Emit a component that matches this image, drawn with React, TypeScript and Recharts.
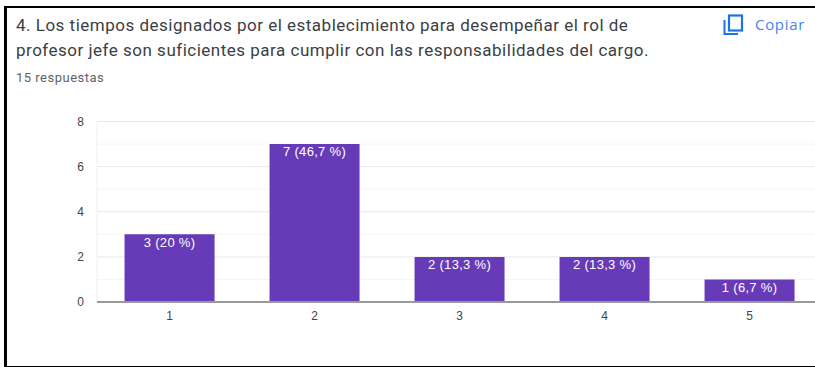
import React from "react";
import {
  BarChart,
  Bar,
  XAxis,
  YAxis,
  CartesianGrid,
  LabelList,
} from "recharts";

const categories = ["1", "2", "3", "4", "5"];
const counts = [3, 7, 2, 2, 1];
const barLabels = ["3 (20 %)", "7 (46,7 %)", "2 (13,3 %)", "2 (13,3 %)", "1 (6,7 %)"];
const yTicks = [0, 2, 4, 6, 8];
const minorLines = [1, 3, 5, 7];

const rows = categories.map((name, i) => ({
  name,
  value: counts[i],
  label: barLabels[i],
}));

const CopyIcon = () => (
  <svg
    width="21"
    height="22"
    viewBox="0 0 21 22"
    style={{ position: "absolute", left: 723, top: 14 }}
  >
    <path d="M1.5 6 V20 H15" fill="none" stroke="#1a73e8" strokeWidth="2" />
    <rect x="6" y="1.5" width="13" height="15" fill="none" stroke="#1a73e8" strokeWidth="2.2" />
  </svg>
);

const tickStyle = {
  fontSize: 12,
  fontFamily: "'Liberation Sans', Arial, sans-serif",
  fill: "#444",
};

export default function App() {
  return (
    <div
      style={{
        position: "absolute",
        left: 0,
        top: 0,
        width: 815,
        height: 367,
        overflow: "hidden",
        background: "#fff",
        fontFamily: "Roboto, sans-serif",
      }}
    >
      {/* frame: top, left and bottom edges only */}
      <div style={{ position: "absolute", left: 4, top: 6, width: 811, height: 2, background: "#000" }} />
      <div style={{ position: "absolute", left: 4, top: 6, width: 3, height: 361, background: "#000" }} />
      <div style={{ position: "absolute", left: 4, top: 366, width: 811, height: 1, background: "#000" }} />

      <div
        style={{
          position: "absolute",
          left: 16,
          top: 13,
          fontSize: 17,
          lineHeight: "25px",
          letterSpacing: 0.5,
          color: "#3c4043",
          whiteSpace: "nowrap",
        }}
      >
        4. Los tiempos designados por el establecimiento para desempeñar el rol de
        <br />
        profesor jefe son suficientes para cumplir con las responsabilidades del cargo.
      </div>
      <div
        style={{
          position: "absolute",
          left: 16,
          top: 71,
          fontSize: 13,
          lineHeight: "14px",
          letterSpacing: 0.5,
          color: "#5f6368",
        }}
      >
        15 respuestas
      </div>
      <CopyIcon />
      <div
        style={{
          position: "absolute",
          left: 755,
          top: 15,
          fontSize: 15,
          lineHeight: "18px",
          fontWeight: 500,
          fontFamily: "'Open Sans', sans-serif",
          letterSpacing: 0.7,
          color: "#4285f4",
        }}
      >
        Copiar
      </div>

      <div style={{ position: "absolute", left: 0, top: 0 }}>
        <BarChart
          width={822}
          height={340.5}
          data={rows}
          margin={{ top: 121.5, right: 0, bottom: 0, left: 0 }}
          barCategoryGap="19%"
        >
          <CartesianGrid vertical={false} horizontalValues={minorLines} stroke="#f5f5f5" />
          <CartesianGrid vertical={false} horizontalValues={yTicks} stroke="#e8e8e8" />
          <YAxis
            type="number"
            domain={[0, 8]}
            ticks={yTicks}
            width={97}
            tickLine={false}
            tickSize={0}
            tickMargin={13}
            axisLine={{ stroke: "#eeeeee" }}
            tick={tickStyle}
          />
          <XAxis
            dataKey="name"
            height={38.5}
            tickLine={false}
            tickSize={0}
            tickMargin={9}
            axisLine={{ stroke: "#999999", strokeWidth: 2 }}
            tick={tickStyle}
          />
          <Bar dataKey="value" fill="#673ab7" isAnimationActive={false}>
            <LabelList
              dataKey="label"
              position="insideTop"
              offset={3}
              fill="#ffffff"
              fontSize={13}
              letterSpacing={0.3}
              fontFamily="'Liberation Sans', Arial, sans-serif"
            />
          </Bar>
        </BarChart>
      </div>
    </div>
  );
}
